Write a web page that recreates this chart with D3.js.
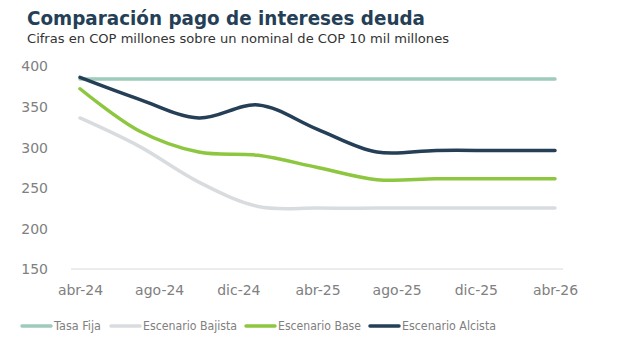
<!DOCTYPE html>
<html>
<head>
<meta charset="utf-8">
<script src="https://cdn.jsdelivr.net/npm/d3@7"></script>
<style>
  body { margin: 0; background: #fff; }
  svg { display: block; font-family: 'DejaVu Sans', 'Noto Sans', sans-serif; }
  .axis path, .axis line { display: none; }
  .axis text { fill: #808080; font-size: 14px; font-family: 'DejaVu Sans', sans-serif; }
  .legend text { fill: #808080; font-size: 12.5px; }
</style>
</head>
<body>
<div id="chart"></div>
<script>
// quarterly points, x labels every 4 months
const months = ['abr-24', 'jul-24', 'oct-24', 'ene-25', 'abr-25', 'jul-25', 'oct-25', 'ene-26', 'abr-26'];
const tickLabels = ['abr-24', 'ago-24', 'dic-24', 'abr-25', 'ago-25', 'dic-25', 'abr-26'];
const yTicks = [150, 200, 250, 300, 350, 400];

const tasaFija = [384, 384, 384, 384, 384, 384, 384, 384, 384];
const bajista = [336, 301, 257, 227, 225, 225, 225, 225, 225];
const base = [372, 320, 294, 290, 275, 260, 261, 261, 261];
const alcista = [386, 359, 336, 352, 322, 294, 296, 296, 296];

const series = [
  { name: 'Tasa Fija', values: tasaFija, color: '#9ecbbb' },
  { name: 'Escenario Bajista', values: bajista, color: '#d9dcdf' },
  { name: 'Escenario Base', values: base, color: '#8dc63f' },
  { name: 'Escenario Alcista', values: alcista, color: '#243f56' },
];

const width = 624;
const height = 352;

const svg = d3.select('#chart')
  .append('svg')
  .attr('width', width)
  .attr('height', height);

svg.append('text')
  .attr('x', 27)
  .attr('y', 25)
  .attr('fill', '#243f56')
  .attr('font-size', 19)
  .attr('font-weight', 700)
  .attr('textLength', 398)
  .attr('lengthAdjust', 'spacingAndGlyphs')
  .text('Comparación pago de intereses deuda');

svg.append('text')
  .attr('x', 27)
  .attr('y', 42.5)
  .attr('fill', '#333')
  .attr('font-size', 12.5)
  .attr('textLength', 422)
  .attr('lengthAdjust', 'spacingAndGlyphs')
  .text('Cifras en COP millones sobre un nominal de COP 10 mil millones');

// x positions in months from abr-24
const x = d3.scaleLinear()
  .domain([0, 24])
  .range([80, 555]);

const y = d3.scaleLinear()
  .domain([150, 400])
  .range([269, 66]);

svg.append('line')
  .attr('x1', 71)
  .attr('x2', 563)
  .attr('y1', y(150))
  .attr('y2', y(150))
  .attr('stroke', '#d9d9d9')
  .attr('stroke-width', 1);

svg.append('g')
  .attr('class', 'axis')
  .attr('transform', 'translate(48,0)')
  .call(d3.axisLeft(y).tickValues(yTicks).tickSize(0).tickPadding(0))
  .selectAll('text')
  .attr('dy', '0.35em');

svg.append('g')
  .attr('class', 'axis')
  .attr('transform', 'translate(0,285)')
  .call(d3.axisBottom(x)
    .tickValues(d3.range(0, 25, 4))
    .tickFormat((d, i) => tickLabels[i])
    .tickSize(0)
    .tickPadding(0));

const line = d3.line()
  .x((d, i) => x(i * 3))
  .y(d => y(d))
  .curve(d3.curveCatmullRom.alpha(0.5));

svg.selectAll('.series')
  .data(series)
  .enter()
  .append('path')
  .attr('class', 'series')
  .attr('fill', 'none')
  .attr('stroke', d => d.color)
  .attr('stroke-width', 3.5)
  .attr('stroke-linecap', 'round')
  .attr('d', d => line(d.values));

// legend
const legendX = [22, 111, 246, 370];
const legendW = [47, 94, 83, 94];
const legend = svg.append('g')
  .attr('class', 'legend')
  .selectAll('g')
  .data(series)
  .enter()
  .append('g')
  .attr('transform', (d, i) => `translate(${legendX[i]},326)`);

legend.append('line')
  .attr('x1', 0)
  .attr('x2', 29)
  .attr('stroke', d => d.color)
  .attr('stroke-width', 3.5)
  .attr('stroke-linecap', 'round');

legend.append('text')
  .attr('x', 32)
  .attr('dy', '0.35em')
  .attr('textLength', (d, i) => legendW[i])
  .attr('lengthAdjust', 'spacingAndGlyphs')
  .text(d => d.name);
</script>
</body>
</html>
